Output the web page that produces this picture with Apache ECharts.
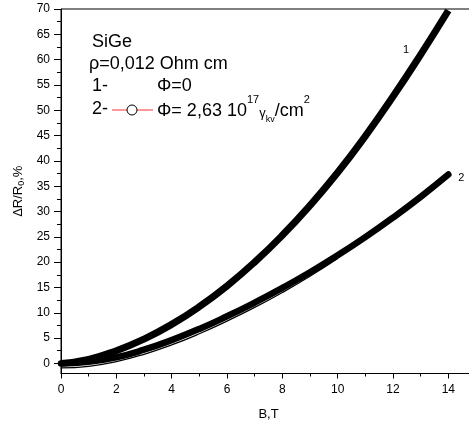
<!DOCTYPE html>
<html>
<head>
<meta charset="utf-8">
<script src="https://cdn.jsdelivr.net/npm/echarts@6/dist/echarts.min.js"></script>
<style>
html, body { margin: 0; padding: 0; background: #fff; }
#chart { width: 469px; height: 426px; }
</style>
</head>
<body>
<div id="chart"></div>
<script>
// data
var fieldB = [0, 1, 2, 3, 4, 5, 6, 7, 8, 9, 10, 11, 12, 13, 14];
var curve1 = [0, 0.8, 2.5, 4.8, 7.7, 11.2, 15.3, 20.0, 25.3, 31.2, 37.7, 44.9, 52.7, 61.0, 69.7];   // 1- Ф=0
var curve2 = [0, 0.3, 1.2, 2.7, 4.6, 6.8, 9.3, 12.0, 14.9, 18.0, 21.35, 24.95, 28.8, 32.9, 37.3];  // 2- Ф=2,63e17
var edgeB = [0, 1, 2, 3, 4, 5, 6, 7, 8, 9, 10];
var curve2Edge = [-0.9, -0.6, 0.35, 1.8, 3.65, 5.85, 8.35, 11.05, 14.0, 17.2, 20.7];
var yTicks = [0, 5, 10, 15, 20, 25, 30, 35, 40, 45, 50, 55, 60, 65, 70];
var yMinorTicks = [2.5, 7.5, 12.5, 17.5, 22.5, 27.5, 32.5, 37.5, 42.5, 47.5, 52.5, 57.5, 62.5, 67.5];

var font = 'Liberation Sans, Arial, sans-serif';

function pairs(xs, ys){
    var out = [];
    for(let i in xs)
        out.push([xs[i], ys[i]]);
    return out;
}

var chart = echarts.init(document.getElementById('chart'));
chart.setOption({
    animation: false,
    textStyle: { fontFamily: font, color: '#000' },
    grid: {
        show: true, borderColor: '#000', borderWidth: 1,
        outerBoundsMode: 'none',
        left: 61, top: 9, width: 415, bottom: 52.5
    },
    xAxis: {
        type: 'value', min: 0, max: 15, interval: 2,
        name: 'B,T', nameLocation: 'middle', nameGap: 34,
        nameTextStyle: { fontSize: 13, color: '#000', fontFamily: font },
        axisLine: { show: true, onZero: false, lineStyle: { color: '#000', width: 1 } },
        axisTick: { show: true, length: 5, lineStyle: { color: '#000' } },
        minorTick: { show: true, splitNumber: 2, length: 3, lineStyle: { color: '#000' } },
        axisLabel: { fontSize: 12, color: '#000', margin: 10, showMaxLabel: false },
        splitLine: { show: false }
    },
    yAxis: [{
        type: 'value', min: -2, max: 70,
        name: '{a|ΔR/R}{s|0}{a|,%}', nameLocation: 'middle', nameGap: 28, nameRotate: 90,
        nameTextStyle: {
            rich: {
                a: { fontSize: 13, color: '#000', fontFamily: font },
                s: { fontSize: 9, color: '#000', fontFamily: font, verticalAlign: 'bottom', padding: [6, 0, 0, 0] }
            }
        },
        axisLine: { show: true, onZero: false, lineStyle: { color: '#000', width: 1 } },
        axisTick: { show: true, length: 7, customValues: yTicks, lineStyle: { color: '#000' } },
        axisLabel: { fontSize: 12, color: '#000', margin: 11, customValues: yTicks },
        splitLine: { show: false }
    }, {
        // minor ticks only
        type: 'value', min: -2, max: 70, position: 'left',
        axisLine: { show: false },
        axisTick: { show: true, length: 4, customValues: yMinorTicks, lineStyle: { color: '#000' } },
        axisLabel: { show: false },
        splitLine: { show: false }
    }],
    series: [{
        name: '1',
        type: 'line',
        smooth: true,
        symbol: 'none',
        lineStyle: { color: '#000', width: 7, cap: 'butt' },
        data: pairs(fieldB, curve1)
    },
    {
        name: '2edge',
        type: 'line',
        smooth: true,
        symbol: 'none',
        lineStyle: { color: '#000', width: 1.3 },
        data: pairs(edgeB, curve2Edge)
    },
    {
        name: '2',
        type: 'line',
        smooth: true,
        symbol: 'none',
        lineStyle: { color: '#000', width: 6.5, cap: 'round' },
        endLabel: { show: true, formatter: '2', fontSize: 11, color: '#000', distance: 10, offset: [0, 3] },
        data: pairs(fieldB, curve2)
    }],
    graphic: [
        { type: 'text', left: 92, top: 33, style: { text: 'SiGe', font: '18px ' + font, fill: '#000' } },
        { type: 'text', left: 89, top: 55, style: { text: 'ρ=0,012 Ohm cm', font: '18px ' + font, fill: '#000' } },
        { type: 'text', left: 92, top: 77, style: { text: '1-', font: '18px ' + font, fill: '#000' } },
        { type: 'text', left: 157, top: 77, style: { text: 'Φ=0', font: '18px ' + font, fill: '#000' } },
        { type: 'text', left: 92, top: 100, style: { text: '2-', font: '18px ' + font, fill: '#000' } },
        { type: 'line', shape: { x1: 112, y1: 110, x2: 153, y2: 110 }, style: { stroke: '#ff3030', lineWidth: 1 } },
        { type: 'circle', shape: { cx: 132, cy: 110, r: 5 }, style: { fill: '#fff', stroke: '#000', lineWidth: 1 } },
        {
            type: 'text', left: 157, top: 94,
            style: {
                text: '{a|Φ= 2,63 10}{p|17}{g|γ}{k|kv}{a|/cm}{p|2}',
                rich: {
                    a: { fontSize: 18, fontFamily: font, fill: '#000', lineHeight: 26, verticalAlign: 'bottom' },
                    p: { fontSize: 11, fontFamily: font, fill: '#000', lineHeight: 26, verticalAlign: 'top' },
                    g: { fontSize: 13, fontFamily: font, fill: '#000', lineHeight: 26, verticalAlign: 'bottom' },
                    k: { fontSize: 9, fontFamily: font, fill: '#000', lineHeight: 26, verticalAlign: 'bottom', padding: [0, 0, -4, 0] }
                }
            }
        },
        { type: 'text', left: 403, top: 44, style: { text: '1', font: '11px ' + font, fill: '#000' } }
    ]
});
</script>
</body>
</html>
